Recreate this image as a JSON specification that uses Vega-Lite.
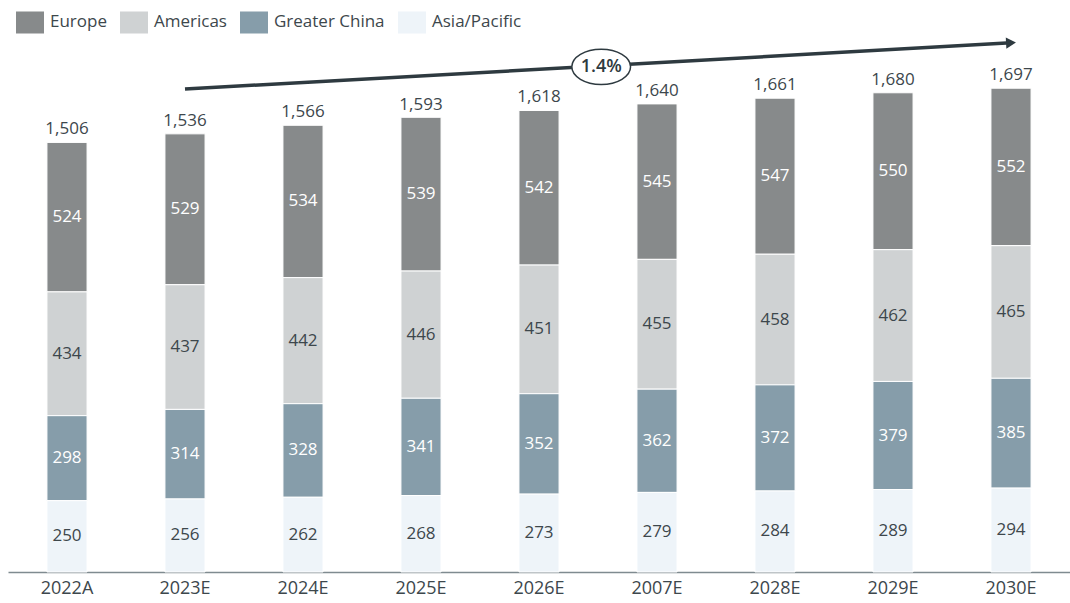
{
  "$schema": "https://vega.github.io/schema/vega-lite/v6.json",
  "width": 1062,
  "height": 532,
  "autosize": {"type": "none"},
  "padding": {"left": 8, "top": 40, "right": 0, "bottom": 31},
  "background": "white",
  "config": {
    "view": {"stroke": null},
    "font": "Open Sans",
    "text": {"font": "Open Sans"}
  },
  "datasets": {
    "seg": [
      {"year": "2022A", "region": "Europe", "value": 524, "ord": 4},
      {"year": "2022A", "region": "Americas", "value": 434, "ord": 3},
      {"year": "2022A", "region": "Greater China", "value": 298, "ord": 2},
      {"year": "2022A", "region": "Asia/Pacific", "value": 250, "ord": 1},
      {"year": "2023E", "region": "Europe", "value": 529, "ord": 4},
      {"year": "2023E", "region": "Americas", "value": 437, "ord": 3},
      {"year": "2023E", "region": "Greater China", "value": 314, "ord": 2},
      {"year": "2023E", "region": "Asia/Pacific", "value": 256, "ord": 1},
      {"year": "2024E", "region": "Europe", "value": 534, "ord": 4},
      {"year": "2024E", "region": "Americas", "value": 442, "ord": 3},
      {"year": "2024E", "region": "Greater China", "value": 328, "ord": 2},
      {"year": "2024E", "region": "Asia/Pacific", "value": 262, "ord": 1},
      {"year": "2025E", "region": "Europe", "value": 539, "ord": 4},
      {"year": "2025E", "region": "Americas", "value": 446, "ord": 3},
      {"year": "2025E", "region": "Greater China", "value": 341, "ord": 2},
      {"year": "2025E", "region": "Asia/Pacific", "value": 268, "ord": 1},
      {"year": "2026E", "region": "Europe", "value": 542, "ord": 4},
      {"year": "2026E", "region": "Americas", "value": 451, "ord": 3},
      {"year": "2026E", "region": "Greater China", "value": 352, "ord": 2},
      {"year": "2026E", "region": "Asia/Pacific", "value": 273, "ord": 1},
      {"year": "2007E", "region": "Europe", "value": 545, "ord": 4},
      {"year": "2007E", "region": "Americas", "value": 455, "ord": 3},
      {"year": "2007E", "region": "Greater China", "value": 362, "ord": 2},
      {"year": "2007E", "region": "Asia/Pacific", "value": 279, "ord": 1},
      {"year": "2028E", "region": "Europe", "value": 547, "ord": 4},
      {"year": "2028E", "region": "Americas", "value": 458, "ord": 3},
      {"year": "2028E", "region": "Greater China", "value": 372, "ord": 2},
      {"year": "2028E", "region": "Asia/Pacific", "value": 284, "ord": 1},
      {"year": "2029E", "region": "Europe", "value": 550, "ord": 4},
      {"year": "2029E", "region": "Americas", "value": 462, "ord": 3},
      {"year": "2029E", "region": "Greater China", "value": 379, "ord": 2},
      {"year": "2029E", "region": "Asia/Pacific", "value": 289, "ord": 1},
      {"year": "2030E", "region": "Europe", "value": 552, "ord": 4},
      {"year": "2030E", "region": "Americas", "value": 465, "ord": 3},
      {"year": "2030E", "region": "Greater China", "value": 385, "ord": 2},
      {"year": "2030E", "region": "Asia/Pacific", "value": 294, "ord": 1}
    ],
    "totals": [
      {"year": "2022A", "total": 1506},
      {"year": "2023E", "total": 1536},
      {"year": "2024E", "total": 1566},
      {"year": "2025E", "total": 1593},
      {"year": "2026E", "total": 1618},
      {"year": "2007E", "total": 1640},
      {"year": "2028E", "total": 1661},
      {"year": "2029E", "total": 1680},
      {"year": "2030E", "total": 1697}
    ],
    "arrow": [
      {"year": "2023E", "v": 1693},
      {"year": "2030E", "v": 1855}
    ],
    "head": [
      {"year": "2030E", "v": 1855}
    ],
    "cagr": [
      {"year": "2026E", "v": 1771, "label": "1.4%"}
    ]
  },
  "encoding": {
    "x": {
      "field": "year",
      "type": "nominal",
      "sort": null,
      "scale": {
        "domain": ["2022A", "2023E", "2024E", "2025E", "2026E", "2007E", "2028E", "2029E", "2030E"],
        "paddingInner": 0.66,
        "paddingOuter": 0.33
      },
      "axis": {
        "title": null,
        "labelAngle": 0,
        "labelFontSize": 18,
        "labelColor": "#3d474c",
        "labelFont": "Open Sans",
        "labelPadding": 7,
        "ticks": false,
        "domainColor": "#7f8b90",
        "domainWidth": 1.5,
        "grid": false
      }
    }
  },
  "layer": [
    {
      "data": {"name": "seg"},
      "mark": {"type": "bar", "stroke": "white", "strokeWidth": 1},
      "encoding": {
        "y": {
          "field": "value",
          "type": "quantitative",
          "stack": "zero",
          "scale": {"domain": [0, 1865], "nice": false, "zero": true},
          "axis": null
        },
        "order": {"field": "ord", "type": "quantitative"},
        "color": {
          "field": "region",
          "type": "nominal",
          "scale": {
            "domain": ["Europe", "Americas", "Greater China", "Asia/Pacific"],
            "range": ["#878a8b", "#cfd2d3", "#869daa", "#eef4f9"]
          },
          "legend": {
            "title": null,
            "orient": "none",
            "direction": "horizontal",
            "columns": 4,
            "legendX": 8,
            "legendY": -32,
            "symbolType": "M-1,-0.786H1V0.786H-1Z",
            "symbolSize": 784,
            "symbolStrokeWidth": 0,
            "symbolOpacity": 1,
            "labelFontSize": 17,
            "labelFont": "Open Sans",
            "labelColor": "#3d474c",
            "labelOffset": 6,
            "columnPadding": 13
          }
        }
      }
    },
    {
      "data": {"name": "seg"},
      "transform": [
        {"stack": "value", "groupby": ["year"], "sort": [{"field": "ord", "order": "ascending"}], "as": ["y0", "y1"]},
        {"calculate": "(datum.y0 + datum.y1) / 2", "as": "mid"}
      ],
      "mark": {"type": "text", "fontSize": 17, "baseline": "middle", "align": "center"},
      "encoding": {
        "y": {"field": "mid", "type": "quantitative"},
        "text": {"field": "value", "type": "quantitative"},
        "color": {
          "condition": {"test": "datum.region === 'Europe' || datum.region === 'Greater China'", "value": "#ffffff"},
          "value": "#3d474c"
        }
      }
    },
    {
      "data": {"name": "totals"},
      "mark": {"type": "text", "fontSize": 17, "baseline": "bottom", "align": "center", "dy": -4, "color": "#3d474c"},
      "encoding": {
        "y": {"field": "total", "type": "quantitative"},
        "text": {"field": "total", "type": "quantitative", "format": ","}
      }
    },
    {
      "data": {"name": "arrow"},
      "mark": {"type": "line", "color": "#2e3a40", "strokeWidth": 3.5},
      "encoding": {
        "y": {"field": "v", "type": "quantitative"}
      }
    },
    {
      "data": {"name": "head"},
      "mark": {"type": "point", "shape": "triangle-right", "filled": true, "color": "#2e3a40", "size": 130, "opacity": 1, "angle": -3},
      "encoding": {
        "y": {"field": "v", "type": "quantitative"}
      }
    },
    {
      "data": {"name": "cagr"},
      "mark": {"type": "point", "shape": "M-1,0A1,0.6,0,1,1,1,0A1,0.6,0,1,1,-1,0Z", "filled": true, "fill": "white", "stroke": "#2e3a40", "strokeWidth": 1.5, "size": 3450, "opacity": 1},
      "encoding": {
        "x": {"field": "year", "type": "nominal", "bandPosition": 2.05},
        "y": {"field": "v", "type": "quantitative"}
      }
    },
    {
      "data": {"name": "cagr"},
      "mark": {"type": "text", "fontSize": 18, "fontWeight": 600, "baseline": "middle", "align": "center", "color": "#2e3a40"},
      "encoding": {
        "x": {"field": "year", "type": "nominal", "bandPosition": 2.05},
        "y": {"field": "v", "type": "quantitative"},
        "text": {"field": "label"}
      }
    }
  ]
}
